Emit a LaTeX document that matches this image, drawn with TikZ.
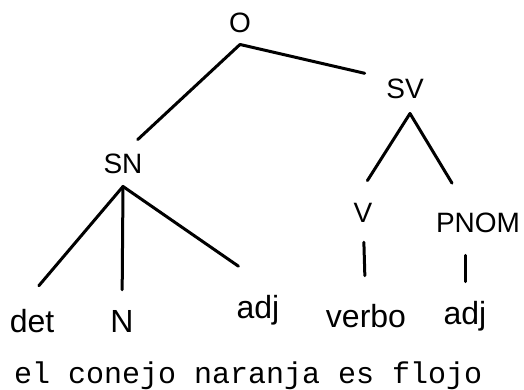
\documentclass[tikz,border=0pt]{standalone}
\usepackage{fontspec}
\setmainfont{Liberation Sans}
\setmonofont{Liberation Mono}
\usepackage{tikz}
\usetikzlibrary{positioning,calc}

\begin{document}
\begin{tikzpicture}[x=1pt,y=-1pt,
  cat/.style={font=\fontsize{28}{30}\selectfont,inner sep=0pt,anchor=base},
  leaf/.style={font=\fontsize{32}{34}\selectfont,inner sep=0pt,anchor=base},
  words/.style={font=\ttfamily\fontsize{30}{32}\selectfont,inner sep=0pt,anchor=base west},
  edge/.style={line width=3pt,line cap=round}]
  \useasboundingbox (0,0) rectangle (524,389);
  \node[cat] (O)    at (240,32)  {O};
  \node[cat] (SV)   at (405,98)  {SV};
  \node[cat] (SN)   at (123,173) {SN};
  \node[cat] (V)    at (363,222) {V};
  \node[cat] (PNOM) at (478,232) {PNOM};
  \node[leaf] (det)   at (32,332)  {det};
  \node[leaf] (N)     at (122,332) {N};
  \node[leaf] (adj)   at (258,318) {adj};
  \node[leaf] (verbo) at (366,327) {verbo};
  \node[leaf] (adj2)  at (465,324) {adj};
  \node[words] (sent) at (14,383) {el conejo naranja es flojo};
  \coordinate[below=12pt of O] (Oj);
  \coordinate[below=15pt of SV,xshift=5pt] (SVj);
  \coordinate[below=13pt of SN] (SNj);
  \draw[edge,shorten >=20pt] (Oj) -- (SN.north);
  \draw[edge,shorten >=22pt] (Oj) -- (SV.north west);
  \draw[edge,shorten >=26pt] (SVj) -- (V.north west);
  \draw[edge,shorten >=34pt] (SVj) -- ($(PNOM.north west)!.4!(PNOM.north east)$);
  \draw[edge,shorten >=30pt] (SNj) -- ($(det.north west)!.22!(det.north east)$);
  \draw[edge,shorten >=20pt] (SNj) -- (N.north);
  \draw[edge,shorten >=50pt] (SNj) -- (adj.north east);
  \draw[edge,shorten <=20pt,shorten >=28pt] (V) -- (verbo);
  \draw[edge,shorten <=23pt,shorten >=19pt] (adj2.north |- PNOM.south) -- (adj2.north);
\end{tikzpicture}
\end{document}
